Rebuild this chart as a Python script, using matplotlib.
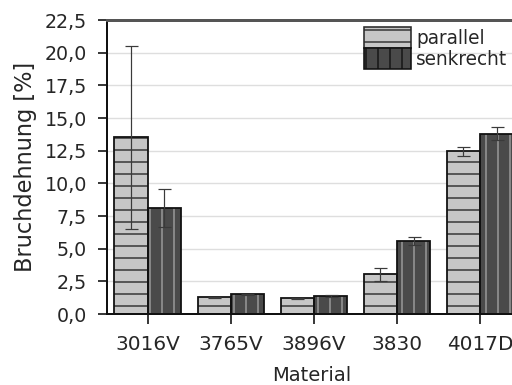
import numpy as np
import matplotlib
matplotlib.use('Agg')
import matplotlib.pyplot as plt
from matplotlib.patches import Patch

MATERIALS = ['3016V', '3765V', '3896V', '3830', '4017D']
PARALLEL = [13.55, 1.3, 1.22, 3.05, 12.47]
PARALLEL_ERR = [7.0, 0.05, 0.05, 0.5, 0.35]
SENKRECHT = [8.15, 1.52, 1.38, 5.58, 13.8]
SENKRECHT_ERR = [1.45, 0.06, 0.05, 0.3, 0.5]
Y_TICKS = [0.0, 2.5, 5.0, 7.5, 10.0, 12.5, 15.0, 17.5, 20.0, 22.5]

LIGHT = '#c6c6c6'
DARK = '#4a4a4a'
TEXT = '#262626'


def hatched_bars(ax, x, heights, face, hatch_color, hatch):
    # hatch drawn in edge colour, then a plain black outline on top
    ax.bar(x, heights, width=0.4, facecolor=face, edgecolor=hatch_color,
           hatch=hatch, linewidth=0, zorder=2)
    ax.bar(x, heights, width=0.4, fill=False, edgecolor='#111111', linewidth=1.8, zorder=3)


def plot_chart():
    plt.rcParams['font.family'] = ['DejaVu Sans']
    plt.rcParams['hatch.linewidth'] = 1.4

    fig = plt.figure(figsize=(512 / 72, 385 / 72), dpi=72)
    ax = fig.add_axes([0.209, 0.184, 0.80, 0.764])

    x = np.arange(len(MATERIALS))
    hatched_bars(ax, x - 0.2, PARALLEL, LIGHT, '#2a2a2a', '-')
    hatched_bars(ax, x + 0.2, SENKRECHT, DARK, '#a0a0a0', '|')

    ax.errorbar(x - 0.2, PARALLEL, yerr=PARALLEL_ERR, fmt='none', ecolor='#3a3a3a',
                elinewidth=1.2, capsize=6.5, capthick=1.2, zorder=4)
    ax.errorbar(x + 0.2, SENKRECHT, yerr=SENKRECHT_ERR, fmt='none', ecolor='#3a3a3a',
                elinewidth=1.2, capsize=6.5, capthick=1.2, zorder=4)

    ax.set_xlim(-0.49, 4.44)
    ax.set_ylim(0, 22.5)
    ax.set_yticks(Y_TICKS)
    ax.set_yticklabels([f'{v:.1f}'.replace('.', ',') for v in Y_TICKS])
    ax.set_xticks(x)
    ax.set_xticklabels(MATERIALS)
    ax.tick_params(axis='y', direction='out', length=9, width=1.8, labelsize=19,
                   colors=TEXT, pad=11)
    ax.tick_params(axis='x', direction='out', length=10, width=1.8, labelsize=20,
                   colors=TEXT, pad=11)
    ax.grid(axis='y', color='#dedede', linewidth=1.4, zorder=0)
    ax.set_axisbelow(True)

    for side in ('left', 'bottom'):
        ax.spines[side].set_linewidth(2.0)
        ax.spines[side].set_color('#111111')
    ax.spines['top'].set_linewidth(3.0)
    ax.spines['top'].set_color('#555555')
    ax.spines['right'].set_visible(False)

    ax.set_xlabel('Material', fontsize=19.5, color=TEXT, labelpad=12)
    ax.set_ylabel('Bruchdehnung [%]', fontsize=22.5, color=TEXT, labelpad=8)

    handles = [
        Patch(facecolor=LIGHT, edgecolor='#2a2a2a', hatch='-', linewidth=1.6),
        Patch(facecolor=DARK, edgecolor='#111111', hatch='|', linewidth=1.6),
    ]
    leg = ax.legend(handles, ['parallel', 'senkrecht'], loc='upper right',
                    bbox_to_anchor=(1.005, 1.015), frameon=False, fontsize=18.5,
                    handlelength=2.55, handleheight=1.4, handletextpad=0.3,
                    labelspacing=0.0, borderaxespad=0.2)
    for t in leg.get_texts():
        t.set_color(TEXT)

    fig.savefig('out.png', dpi=72)


if __name__ == '__main__':
    plot_chart()
